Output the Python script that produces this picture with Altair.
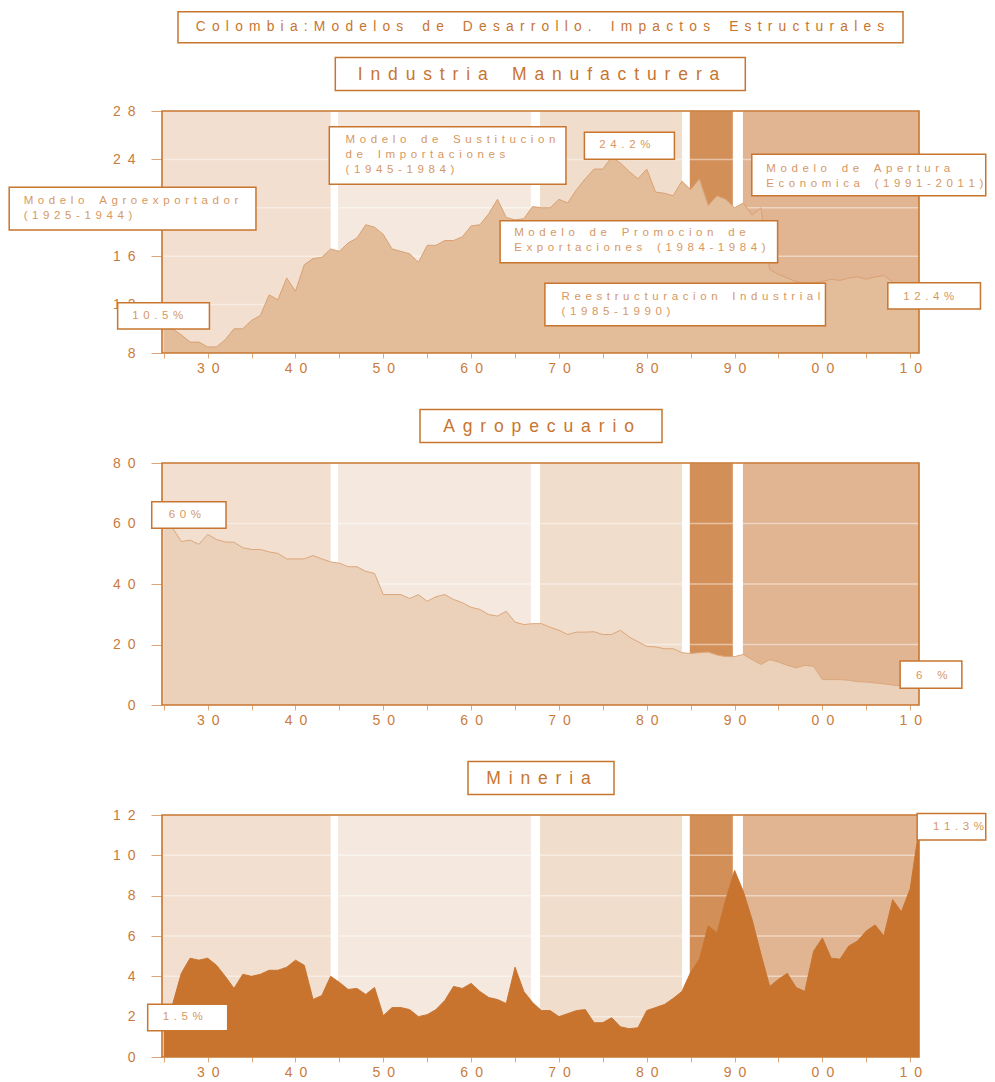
import altair as alt
import pandas as pd

# ---------------- data ----------------
years = list(range(1925, 2012))

industria = [10.5, 10.0, 9.5, 8.9, 8.9, 8.5, 8.5, 9.1, 10.0, 10.0,
             10.7, 11.1, 12.8, 12.4, 14.2, 13.1, 15.3, 15.8, 15.9, 16.6,
             16.4, 17.1, 17.5, 18.6, 18.4, 17.8, 16.6, 16.4, 16.2, 15.5,
             16.9, 16.9, 17.3, 17.3, 17.6, 18.5, 18.6, 19.5, 20.7, 19.2,
             19.0, 19.1, 20.1, 20.0, 20.0, 20.7, 20.4, 21.5, 22.4, 23.2,
             23.2, 24.2, 23.7, 23.0, 22.4, 23.2, 21.3, 21.2, 21.0, 22.2,
             21.5, 22.4, 20.2, 21.0, 20.7, 20.0, 20.4, 19.4, 20.0, 14.9,
             14.5, 14.2, 13.9, 13.8, 13.8, 13.9, 14.1, 14.0, 14.2, 14.3,
             14.1, 14.3, 14.4, 13.9, 13.2, 12.8, 12.4]

agropecuario = [60.0, 58.5, 54.0, 54.5, 53.1, 56.4, 54.7, 53.9, 53.8, 52.0,
                51.4, 51.4, 50.6, 50.1, 48.3, 48.3, 48.3, 49.4, 48.3, 47.3,
                46.9, 45.7, 45.7, 44.2, 43.5, 36.5, 36.5, 36.5, 35.2, 36.5,
                34.3, 35.8, 36.5, 34.9, 33.8, 32.3, 31.6, 29.9, 29.4, 31.0,
                27.4, 26.6, 26.9, 26.9, 25.7, 24.7, 23.3, 24.1, 24.1, 24.2,
                23.3, 23.3, 24.7, 22.5, 20.9, 19.4, 19.2, 18.6, 18.6, 17.3,
                17.0, 17.3, 17.5, 16.5, 16.0, 16.0, 16.7, 15.0, 13.4, 15.0,
                14.2, 13.1, 12.3, 13.1, 12.8, 8.4, 8.4, 8.4, 8.2, 7.7,
                7.6, 7.3, 7.0, 6.6, 6.3, 6.1, 6.0]

mineria = [1.5, 2.6, 4.15, 4.9, 4.8, 4.9, 4.55, 4.0, 3.4, 4.1,
           4.0, 4.1, 4.3, 4.3, 4.45, 4.8, 4.55, 2.85, 3.05, 4.0,
           3.7, 3.35, 3.4, 3.1, 3.45, 2.05, 2.45, 2.45, 2.35, 2.0,
           2.1, 2.35, 2.8, 3.5, 3.4, 3.65, 3.25, 2.95, 2.85, 2.65,
           4.45, 3.25, 2.7, 2.3, 2.3, 2.0, 2.15, 2.3, 2.35, 1.7,
           1.7, 1.95, 1.5, 1.4, 1.45, 2.3, 2.45, 2.6, 2.9, 3.25,
           4.2, 4.85, 6.5, 6.15, 7.8, 9.25, 8.2, 6.8, 5.1, 3.5,
           3.85, 4.15, 3.45, 3.25, 5.25, 5.9, 4.9, 4.85, 5.5, 5.75,
           6.25, 6.55, 6.0, 7.8, 7.2, 8.35, 11.3]

# development-model periods (background bands)
band_names = ["Agroexportador", "Sustitucion", "Promocion", "Reestructuracion", "Apertura"]
band_start = [1924.8, 1944.85, 1967.85, 1984.9, 1990.95]
band_end = [1944.0, 1966.8, 1984.0, 1989.8, 2011.0]
band_colors = ["#f2dfcf", "#f5e9df", "#f1ddcb", "#d38f58", "#e2b592"]
band_colors_mid = ["#f5e8dd", "#f5e9df", "#f1ddcb", "#d38f58", "#e2b592"]

main_title = "Colombia:Modelos de Desarrollo. Impactos Estructurales"
panel_titles = ["Industria Manufacturera", "Agropecuario", "Mineria"]

# annotation labels (text, box x-range in years, box y-range in values, text anchor)
ann_top_text = ["Modelo Agroexportador\n(1925-1944)", "10.5%",
                "Modelo de Sustitucion\nde Importaciones\n(1945-1984)", "24.2%",
                "Modelo de Apertura\nEconomica (1991-2011)",
                "Modelo de Promocion de\nExportaciones (1984-1984)",
                "Reestructuracion Industrial\n(1985-1990)", "12.4%"]
ann_top_x1 = [1907.4, 1919.75, 1943.85, 1972.9, 1991.96, 1963.3, 1968.4, 2007.45]
ann_top_x2 = [1935.5, 1930.2, 1970.8, 1983.15, 2018.6, 1994.9, 2000.35, 2018.0]
ann_top_y1 = [21.69, 12.16, 26.70, 26.24, 24.42, 18.93, 13.76, 13.81]
ann_top_y2 = [18.17, 9.98, 21.94, 24.01, 21.0, 15.46, 10.26, 11.64]
ann_top_tx = [1909.05, 1921.4, 1945.7, 1974.6, 1993.6, 1964.9, 1970.3, 2009.2]
ann_top_ty = [20.31, 10.81, 25.33, 24.94, 23.0, 17.63, 12.34, 12.38]

ann_mid_text = ["60%", "6 %"]
ann_mid_x1 = [1923.63, 2008.85]
ann_mid_x2 = [1932.09, 2015.88]
ann_mid_y1 = [67.21, 14.55]
ann_mid_y2 = [58.41, 5.52]
ann_mid_tx = [1925.56, 2010.67]
ann_mid_ty = [61.98, 8.60]

ann_bot_text = ["1.5%", "11.3%"]
ann_bot_x1 = [1923.17, 2010.79]
ann_bot_x2 = [1932.28, 2018.6]
ann_bot_y1 = [2.61, 12.08]
ann_bot_y2 = [1.30, 10.76]
ann_bot_tx = [1924.88, 2012.6]
ann_bot_ty = [1.81, 11.26]

# ---------------- style ----------------
FONT = "Liberation Sans"
ORANGE = "#c8752f"
LABEL_C = "#c97b3e"
ANN_C = "#d69863"
W, H = 757, 242
GAP_TITLE = "\u2005\u2009"
GAP_ANN = "\u2009\u2009"


def spaced(s, gap):
    out = []
    for line in s.split("\n"):
        words = [gap.join(list(w)) for w in line.split(" ")]
        out.append((gap + "\u00a0\u2009" + gap).join(words))
    return "\n".join(out)


XS = alt.Scale(domain=[1924.8, 2011.0], nice=False, zero=False)
XAXIS = alt.Axis(values=list(range(1925, 2011, 5)),
                 labelExpr="datum.value % 10 === 0 ? join(split(slice(toString(datum.value), 2), ''), '\u2002') : ''",
                 title=None, grid=False, domain=False, tickSize=5, tickColor="#e0a67b",
                 labelFont=FONT, labelFontSize=14, labelColor=LABEL_C, labelPadding=3,
                 labelFlush=False, labelOverlap=False, zindex=0)

bands_df = pd.DataFrame({"period": band_names, "start": band_start, "end": band_end})
one = pd.DataFrame({"k": [0]})


def panel(values, ymin, ymax, yticks, fill, stroke, ann, title, tbox, bcolors, extra_title=False):
    YS = alt.Scale(domain=[ymin, ymax], nice=False, zero=False)
    YAXIS = alt.Axis(values=yticks, labelExpr="join(split(datum.label, ''), '\u2002')",
                     title=None, grid=False, domain=False, tickSize=11, tickColor="#e0a67b",
                     labelFont=FONT, labelFontSize=14, labelColor=LABEL_C, labelPadding=16,
                     labelOverlap=False, zindex=0)
    df = pd.DataFrame({"year": years, "v": values})
    text, x1, x2, y1, y2, tx, ty = ann
    ann_df = pd.DataFrame({"label": [spaced(t, GAP_ANN) for t in text], "x1": x1, "x2": x2,
                           "y1": y1, "y2": y2, "tx": tx, "ty": ty})

    bands = alt.Chart(bands_df).mark_rect(opacity=1).encode(
        x=alt.X("start:Q", scale=XS, axis=XAXIS), x2="end:Q",
        y=alt.value(0), y2=alt.value("height"),
        color=alt.Color("period:N", scale=alt.Scale(domain=band_names, range=bcolors), legend=None))
    grid = alt.Chart(pd.DataFrame({"t": yticks})).mark_rule(
        color="white", opacity=0.45, strokeWidth=1.5).encode(
        y=alt.Y("t:Q", scale=YS, axis=YAXIS), x=alt.value(0), x2=alt.value(W))
    area = alt.Chart(df).mark_area(color=fill, opacity=1,
                                   line={"color": stroke, "strokeWidth": 1}).encode(
        x=alt.X("year:Q", scale=XS, axis=XAXIS),
        y=alt.Y("v:Q", scale=YS, axis=YAXIS), y2=alt.datum(ymin))
    border = alt.Chart(one).mark_rect(filled=False, stroke=ORANGE, strokeWidth=1.6).encode(
        x=alt.value(0), x2=alt.value("width"), y=alt.value(0), y2=alt.value("height"))
    boxes = alt.Chart(ann_df).mark_rect(fill="white", stroke=ORANGE, strokeWidth=1.5, opacity=1).encode(
        x=alt.X("x1:Q", scale=XS, axis=XAXIS), x2="x2:Q",
        y=alt.Y("y1:Q", scale=YS, axis=YAXIS), y2="y2:Q")
    labels = alt.Chart(ann_df).mark_text(
        align="left", baseline="alphabetic", lineBreak="\n", lineHeight=15,
        font=FONT, fontSize=11.5, color=ANN_C).encode(
        x=alt.X("tx:Q", scale=XS, axis=XAXIS), y=alt.Y("ty:Q", scale=YS, axis=YAXIS), text="label:N")

    bx1, bx2 = tbox
    tb = alt.Chart(one).mark_rect(fill="white", stroke=ORANGE, strokeWidth=1.5, opacity=1).encode(
        x=alt.value(bx1), x2=alt.value(bx2), y=alt.value(-53.5), y2=alt.value(-20.5))
    tt = alt.Chart(one).mark_text(align="center", baseline="alphabetic", font=FONT,
                                  fontSize=17.5, color=ORANGE).encode(
        x=alt.value(W / 2 - 2), y=alt.value(-31), text=alt.value(spaced(title, GAP_TITLE)))
    layers = [bands, grid, area, border, boxes, labels, tb, tt]
    if extra_title:
        mb = alt.Chart(one).mark_rect(fill="white", stroke=ORANGE, strokeWidth=1.5, opacity=1).encode(
            x=alt.value(16), x2=alt.value(741), y=alt.value(-99.3), y2=alt.value(-68.3))
        mt = alt.Chart(one).mark_text(align="center", baseline="alphabetic", font=FONT,
                                      fontSize=13.8, color=ORANGE).encode(
            x=alt.value(378), y=alt.value(-80.5), text=alt.value(spaced(main_title, GAP_TITLE)))
        layers += [mb, mt]
    return alt.layer(*layers).properties(width=W, height=H)


p1 = panel(industria, 8, 28, [8, 12, 16, 20, 24, 28], "#e3bc99", "#d9a173",
           (ann_top_text, ann_top_x1, ann_top_x2, ann_top_y1, ann_top_y2, ann_top_tx, ann_top_ty),
           panel_titles[0], (173.3, 583.3), band_colors, extra_title=True)
p2 = panel(agropecuario, 0, 80, [0, 20, 40, 60, 80], "#ebd1b9", "#dca77c",
           (ann_mid_text, ann_mid_x1, ann_mid_x2, ann_mid_y1, ann_mid_y2, ann_mid_tx, ann_mid_ty),
           panel_titles[1], (258, 500), band_colors_mid)
p3 = panel(mineria, 0, 12, [0, 2, 4, 6, 8, 10, 12], "#c8742f", "#c8742f",
           (ann_bot_text, ann_bot_x1, ann_bot_x2, ann_bot_y1, ann_bot_y2, ann_bot_tx, ann_bot_ty),
           panel_titles[2], (306, 452), band_colors)

chart = alt.vconcat(p1, p2, p3, spacing=110, bounds="flush").properties(
    padding={"left": 0, "top": 2, "right": 0, "bottom": 0}
).configure_view(stroke=None)

chart.save("out.html", embed_options={"renderer": "svg", "actions": False})
